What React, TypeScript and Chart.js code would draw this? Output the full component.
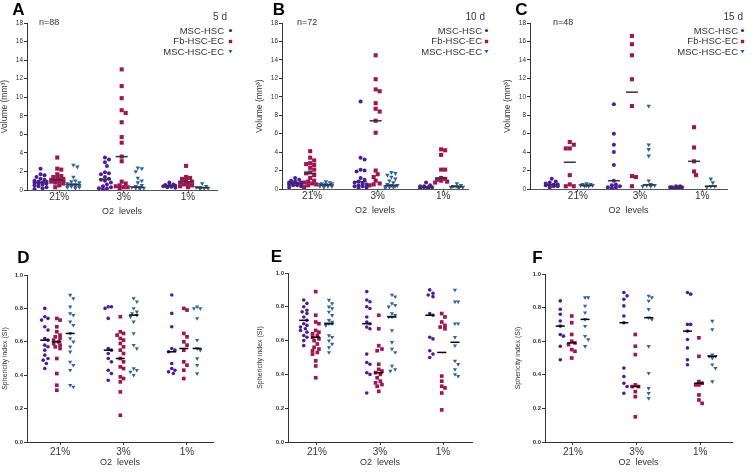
import React, { useEffect, useRef } from "react";
import { Chart, registerables } from "chart.js";

Chart.register(...registerables);

const FONT = '"Liberation Sans", Arial, Helvetica, sans-serif';
Chart.defaults.font.family = FONT;

const GROUPS = ["21%", "3%", "1%"];
const SERIES = ["MSC-HSC", "Fb-HSC-EC", "MSC-HSC-EC"];
const VOLUME_TICKS = [0, 2, 4, 6, 8, 10, 12, 14, 16, 18];
const SPHERICITY_TICKS = [0, 0.2, 0.4, 0.6, 0.8, 1.0];

// ---------- Panel A (5 d), volume, per group [21%, 3%, 1%]
const A_MSC_HSC = [
  [2.3, 1.7, 1.6, 1.4, 1.2, 1.1, 1.0, 0.9, 0.9, 0.8, 0.8, 0.7, 0.7, 0.6, 0.5, 0.4, 0.3, 0.2, 0.1],
  [3.5, 3.3, 3.0, 2.6, 1.9, 1.8, 1.7, 1.4, 1.2, 1.1, 1.0, 0.8, 0.6, 0.4, 0.3, 0.2, 0.15, 0.1],
  [0.8, 0.6, 0.55, 0.5, 0.45, 0.4, 0.35, 0.3, 0.25],
];
const A_FB_HSC_EC = [
  [3.5, 2.3, 2.2, 1.7, 1.5, 1.4, 1.3, 1.2, 1.1, 1.1, 1.0, 1.0, 0.9, 0.9, 0.8, 0.7, 0.5, 0.3],
  [13.0, 11.2, 9.9, 8.6, 8.3, 7.3, 5.7, 5.1, 3.6, 3.1, 0.9, 0.7, 0.5, 0.4, 0.3, 0.3, 0.2],
  [2.6, 1.4, 1.3, 1.2, 1.0, 0.9, 0.8, 0.7, 0.6, 0.5, 0.4, 0.3],
];
const A_MSC_HSC_EC = [
  [2.7, 2.5, 1.4, 1.0, 0.9, 0.8, 0.7, 0.6, 0.6, 0.5, 0.5, 0.4, 0.4, 0.3, 0.3, 0.2],
  [2.4, 2.3, 2.0, 1.3, 1.0, 0.8, 0.5, 0.4, 0.3, 0.3, 0.2, 0.2, 0.1],
  [0.7, 0.4, 0.3, 0.3, 0.2, 0.2, 0.1],
];
const A_MEDIANS = [[0.8, 1.15, 0.45], [1.1, 3.6, 0.9], [0.6, 0.3, 0.25]];

// ---------- Panel B (10 d)
const B_MSC_HSC = [
  [1.2, 1.0, 0.9, 0.8, 0.7, 0.7, 0.6, 0.6, 0.5, 0.5, 0.4, 0.4, 0.3, 0.2],
  [9.5, 3.4, 3.2, 2.1, 2.0, 1.9, 1.2, 1.0, 0.8, 0.7, 0.6, 0.5, 0.4, 0.3, 0.3, 0.2, 0.1],
  [0.7, 0.4, 0.3, 0.3, 0.2, 0.2, 0.2, 0.1, 0.1],
];
const B_FB_HSC_EC = [
  [4.1, 3.4, 3.1, 2.8, 2.7, 2.6, 2.3, 2.1, 1.8, 1.7, 1.5, 1.2, 0.9, 0.8, 0.7, 0.6, 0.5, 0.4, 0.2],
  [14.5, 11.9, 10.8, 10.6, 9.3, 8.7, 8.4, 7.4, 6.1, 2.0, 1.6, 1.3, 0.9, 0.6, 0.5, 0.4],
  [4.3, 4.2, 3.7, 2.1, 2.1, 1.2, 1.1, 1.0, 0.9, 0.8, 0.7],
];
const B_MSC_HSC_EC = [
  [0.8, 0.7, 0.6, 0.6, 0.5, 0.5, 0.4, 0.4, 0.4, 0.3, 0.3, 0.3, 0.2],
  [1.8, 1.7, 1.5, 1.3, 1.1, 0.9, 0.7, 0.5, 0.4, 0.4, 0.3, 0.3, 0.2, 0.2, 0.1],
  [0.6, 0.4, 0.3, 0.3, 0.2, 0.2, 0.1],
];
const B_MEDIANS = [[0.6, 0.8, 0.2], [1.7, 7.4, 1.2], [0.45, 0.4, 0.25]];

// ---------- Panel C (15 d)
const C_MSC_HSC = [
  [1.1, 0.8, 0.7, 0.6, 0.5, 0.5, 0.4, 0.4, 0.3, 0.3, 0.2],
  [9.2, 6.0, 4.8, 4.0, 2.6, 0.9, 0.5, 0.4, 0.3, 0.2, 0.2, 0.1],
  [0.3, 0.3, 0.2, 0.2, 0.2, 0.1, 0.1, 0.1],
];
const C_FB_HSC_EC = [
  [5.1, 4.8, 4.4, 4.4, 1.5, 0.5, 0.3, 0.3],
  [16.6, 15.7, 14.5, 11.9, 9.0, 1.4, 1.3, 0.3],
  [6.7, 4.5, 3.0, 1.9, 1.5],
];
const C_MSC_HSC_EC = [
  [0.6, 0.5, 0.5, 0.4, 0.4, 0.4, 0.3, 0.3],
  [9.0, 4.8, 4.3, 3.6, 0.9, 0.5, 0.4, 0.4, 0.3, 0.3],
  [1.1, 0.7, 0.3, 0.3, 0.2],
];
const C_MEDIANS = [[0.45, 0.9, 0.15], [2.9, 10.5, 3.0], [0.4, 0.45, 0.3]];

// ---------- Panel D (sphericity, 5 d)
const D_MSC_HSC = [
  [0.80, 0.75, 0.74, 0.73, 0.69, 0.67, 0.62, 0.61, 0.58, 0.57, 0.55, 0.52, 0.50, 0.49, 0.47, 0.44],
  [0.81, 0.81, 0.80, 0.74, 0.56, 0.55, 0.53, 0.50, 0.48, 0.43, 0.41, 0.37],
  [0.88, 0.77, 0.69, 0.56, 0.55, 0.54, 0.47, 0.44, 0.43, 0.42, 0.41],
];
const D_FB_HSC_EC = [
  [0.74, 0.73, 0.69, 0.66, 0.64, 0.63, 0.62, 0.61, 0.60, 0.59, 0.58, 0.57, 0.56, 0.50, 0.41, 0.34, 0.31],
  [0.75, 0.66, 0.65, 0.64, 0.62, 0.61, 0.59, 0.57, 0.55, 0.53, 0.50, 0.48, 0.45, 0.44, 0.39, 0.38, 0.36, 0.30, 0.16],
  [0.80, 0.79, 0.65, 0.63, 0.60, 0.58, 0.55, 0.48, 0.46, 0.43, 0.38],
];
const D_MSC_HSC_EC = [
  [0.88, 0.86, 0.81, 0.77, 0.76, 0.72, 0.70, 0.65, 0.62, 0.60, 0.57, 0.54, 0.48, 0.46, 0.43, 0.34, 0.33],
  [0.86, 0.84, 0.80, 0.78, 0.77, 0.76, 0.75, 0.72, 0.65, 0.58, 0.56, 0.44, 0.43, 0.42, 0.40],
  [0.81, 0.80, 0.80, 0.74, 0.61, 0.56, 0.55, 0.50, 0.46, 0.41],
];
const D_MEDIANS = [[0.61, 0.55, 0.54], [0.60, 0.50, 0.56], [0.65, 0.76, 0.56]];

// ---------- Panel E
const E_MSC_HSC = [
  [0.84, 0.82, 0.80, 0.78, 0.77, 0.76, 0.74, 0.72, 0.70, 0.69, 0.68, 0.67, 0.66, 0.65, 0.63, 0.62, 0.60, 0.57],
  [0.89, 0.84, 0.83, 0.80, 0.79, 0.74, 0.71, 0.70, 0.68, 0.67, 0.52, 0.47, 0.46, 0.41, 0.40, 0.29],
  [0.90, 0.88, 0.87, 0.86, 0.76, 0.75, 0.62, 0.61, 0.54, 0.52, 0.50],
];
const E_FB_HSC_EC = [
  [0.89, 0.75, 0.71, 0.70, 0.66, 0.65, 0.64, 0.63, 0.62, 0.61, 0.60, 0.58, 0.56, 0.55, 0.54, 0.53, 0.52, 0.48, 0.45, 0.38],
  [0.75, 0.67, 0.57, 0.55, 0.54, 0.46, 0.43, 0.42, 0.41, 0.40, 0.38, 0.36, 0.35, 0.34, 0.33, 0.30],
  [0.76, 0.74, 0.71, 0.69, 0.68, 0.67, 0.39, 0.36, 0.33, 0.32, 0.29, 0.19],
];
const E_MSC_HSC_EC = [
  [0.84, 0.82, 0.80, 0.79, 0.77, 0.75, 0.72, 0.71, 0.70, 0.70, 0.70, 0.69, 0.63, 0.62, 0.60, 0.58, 0.56, 0.53],
  [0.87, 0.86, 0.82, 0.81, 0.80, 0.76, 0.75, 0.74, 0.74, 0.66, 0.59, 0.55, 0.53, 0.45, 0.43, 0.42],
  [0.90, 0.83, 0.83, 0.70, 0.70, 0.62, 0.57, 0.48, 0.46, 0.43, 0.40, 0.39],
];
const E_MEDIANS = [[0.72, 0.70, 0.75], [0.62, 0.41, 0.53], [0.70, 0.74, 0.59]];

// ---------- Panel F
const F_MSC_HSC = [
  [0.84, 0.79, 0.76, 0.72, 0.69, 0.64, 0.63, 0.57, 0.49],
  [0.89, 0.87, 0.85, 0.81, 0.75, 0.71, 0.44, 0.39, 0.35, 0.33, 0.29],
  [0.89, 0.88, 0.70, 0.70, 0.66, 0.61, 0.56, 0.49, 0.46],
];
const F_FB_HSC_EC = [
  [0.75, 0.71, 0.64, 0.60, 0.59, 0.58, 0.55, 0.54, 0.50],
  [0.64, 0.57, 0.52, 0.34, 0.33, 0.33, 0.30, 0.27, 0.15],
  [0.62, 0.51, 0.36, 0.35, 0.34, 0.34, 0.28, 0.25, 0.23],
];
const F_MSC_HSC_EC = [
  [0.86, 0.86, 0.81, 0.77, 0.73, 0.69, 0.63, 0.61, 0.57],
  [0.87, 0.86, 0.84, 0.79, 0.74, 0.73, 0.57, 0.41, 0.32, 0.29, 0.26],
  [0.72, 0.67, 0.52, 0.51, 0.51, 0.50, 0.46, 0.44, 0.36],
];
const F_MEDIANS = [[0.69, 0.71, 0.66], [0.59, 0.33, 0.35], [0.73, 0.74, 0.51]];

const COLORS = ["#4a1c9c", "#9e1651", "#2f6399"];
const STYLES = ["circle", "rect", "triangle"];

type Panel = {
  letter: string;
  n?: string;
  day?: string;
  series: number[][][];
  medians: number[][];
  kind: "volume" | "sphericity";
  left: number;
  top: number;
  width: number;
  height: number;
  area: { l: number; t: number; r: number; b: number };
  padLeft: number;
  xAxisH: number;
  xRange: [number, number];
  offsets: number[];
  letterPos: [number, number];
  nPos?: [number, number];
  dayRight?: number;
  legendRight?: number;
  markerX?: number;
};

const PANELS: Panel[] = [
  {
    letter: "A", n: "n=88", day: "5 d",
    series: [A_MSC_HSC, A_FB_HSC_EC, A_MSC_HSC_EC], medians: A_MEDIANS, kind: "volume",
    left: 0, top: 0, width: 250, height: 230,
    area: { l: 27, t: 23, r: 217, b: 190 }, padLeft: 0, xAxisH: 27,
    xRange: [-0.5, 2.45], offsets: [-0.29, -0.03, 0.22],
    letterPos: [18.5, 9], nPos: [39, 22], dayRight: 227, legendRight: 224, markerX: 230,
  },
  {
    letter: "B", n: "n=72", day: "10 d",
    series: [B_MSC_HSC, B_FB_HSC_EC, B_MSC_HSC_EC], medians: B_MEDIANS, kind: "volume",
    left: 250, top: 0, width: 250, height: 230,
    area: { l: 32, t: 23, r: 218, b: 189 }, padLeft: 5, xAxisH: 27,
    xRange: [-0.46, 2.38], offsets: [-0.26, -0.03, 0.21],
    letterPos: [29, 9], nPos: [47, 22], dayRight: 235, legendRight: 232, markerX: 236,
  },
  {
    letter: "C", n: "n=48", day: "15 d",
    series: [C_MSC_HSC, C_FB_HSC_EC, C_MSC_HSC_EC], medians: C_MEDIANS, kind: "volume",
    left: 500, top: 0, width: 253, height: 230,
    area: { l: 30, t: 23, r: 227, b: 189 }, padLeft: 3, xAxisH: 27,
    xRange: [-0.77, 2.4], offsets: [-0.42, -0.13, 0.14],
    letterPos: [21.5, 9], nPos: [53, 22], dayRight: 243, legendRight: 238, markerX: 242,
  },
  {
    letter: "D",
    series: [D_MSC_HSC, D_FB_HSC_EC, D_MSC_HSC_EC], medians: D_MEDIANS, kind: "sphericity",
    left: 0, top: 230, width: 250, height: 243,
    area: { l: 27, t: 45, r: 213, b: 212 }, padLeft: 1, xAxisH: 26,
    xRange: [-0.52, 2.41], offsets: [-0.24, -0.05, 0.16],
    letterPos: [23.5, 26.5],
  },
  {
    letter: "E",
    series: [E_MSC_HSC, E_FB_HSC_EC, E_MSC_HSC_EC], medians: E_MEDIANS, kind: "sphericity",
    left: 250, top: 230, width: 250, height: 243,
    area: { l: 38, t: 43, r: 222, b: 212 }, padLeft: 6, xAxisH: 26,
    xRange: [-0.46, 2.46], offsets: [-0.21, -0.02, 0.19],
    letterPos: [26.5, 26],
  },
  {
    letter: "F",
    series: [F_MSC_HSC, F_FB_HSC_EC, F_MSC_HSC_EC], medians: F_MEDIANS, kind: "sphericity",
    left: 500, top: 230, width: 253, height: 243,
    area: { l: 45, t: 44, r: 232, b: 212 }, padLeft: 14, xAxisH: 26,
    xRange: [-0.44, 2.5], offsets: [-0.2, -0.02, 0.19],
    letterPos: [37.5, 26.5],
  },
];

// deterministic beeswarm spread (pixels), computed from the values
function swarmOffsets(values: number[], yPx: number, diam: number, step: number, maxSlot: number): number[] {
  const order = values.map((_, i) => i).sort((a, b) => values[b] - values[a]);
  const placed: { x: number; y: number }[] = [];
  const out = new Array(values.length).fill(0);
  const slots = [0];
  for (let k = 1; k <= maxSlot; k++) slots.push(k, -k);
  for (const i of order) {
    const y = values[i] * yPx;
    let best = 0;
    let bestOverlap = Infinity;
    for (const s of slots) {
      const x = s * step;
      let overlap = 0;
      for (const p of placed) {
        const d = Math.hypot(p.x - x, p.y - y);
        if (d < diam) overlap += diam - d;
      }
      if (overlap === 0) { best = s; bestOverlap = 0; break; }
      if (overlap < bestOverlap - 0.01) { bestOverlap = overlap; best = s; }
    }
    placed.push({ x: best * step, y });
    out[i] = best * step;
  }
  return out;
}

function Marker({ s, x, y }: { s: number; x: number; y: number }) {
  const c = COLORS[s];
  return (
    <svg width={5} height={5} style={{ position: "absolute", left: x - 2.5, top: y - 2.5 }}>
      {s === 0 && <circle cx={2.5} cy={2.5} r={1.6} fill={c} />}
      {s === 1 && <rect x={0.8} y={0.8} width={3.4} height={3.4} fill={c} />}
      {s === 2 && <polygon points="0.5,1 4.5,1 2.5,4.4" fill={c} />}
    </svg>
  );
}

function PanelView({ p }: { p: Panel }) {
  const ref = useRef<HTMLCanvasElement>(null);
  useEffect(() => {
    if (!ref.current) return;
    const isVol = p.kind === "volume";
    const yTicks = isVol ? VOLUME_TICKS : SPHERICITY_TICKS;
    const yMin = yTicks[0];
    const yMax = yTicks[yTicks.length - 1];
    const xPx = (p.area.r - p.area.l) / (p.xRange[1] - p.xRange[0]);
    const yPx = (p.area.b - p.area.t) / (yMax - yMin);
    const sizes = isVol ? [2, 2.9, 2.6] : [1.8, 2.6, 2.4];
    const axisColor = isVol ? "#555" : "#333";

    const medianPts: { x: number; y: number }[] = [];
    p.medians.forEach((row, s) =>
      row.forEach((m, g) => medianPts.push({ x: g + p.offsets[s], y: m }))
    );

    const datasets: any[] = [
      {
        label: "median",
        data: medianPts,
        showLine: false,
        pointStyle: "line",
        pointRadius: isVol ? 6 : 4.5,
        pointBorderColor: isVol ? "#333" : "#000",
        pointBorderWidth: 1.5,
      },
    ];
    SERIES.forEach((name, s) => {
      const pts: { x: number; y: number }[] = [];
      p.series[s].forEach((vals, g) => {
        const off = isVol ? swarmOffsets(vals, yPx, 4.0, 2.0, 3) : swarmOffsets(vals, yPx, 4.0, 1.6, 2);
        vals.forEach((v, i) => pts.push({ x: g + p.offsets[s] + off[i] / xPx, y: v }));
      });
      datasets.push({
        label: name,
        data: pts,
        showLine: false,
        pointStyle: STYLES[s],
        pointRotation: s === 2 ? 180 : 0,
        pointRadius: sizes[s],
        pointBackgroundColor: COLORS[s],
        pointBorderWidth: 0,
        pointBorderColor: COLORS[s],
      });
    });

    const chart = new Chart(ref.current, {
      type: "scatter",
      data: { datasets },
      options: {
        responsive: false,
        animation: false,
        devicePixelRatio: 1,
        events: [],
        layout: {
          padding: {
            left: p.padLeft,
            right: p.width - p.area.r,
            top: p.area.t,
            bottom: p.height - p.area.b - p.xAxisH,
          },
        },
        plugins: { legend: { display: false }, tooltip: { enabled: false } },
        scales: {
          x: {
            type: "linear",
            min: p.xRange[0],
            max: p.xRange[1],
            afterBuildTicks: (s: any) => {
              s.ticks = GROUPS.map((_, i) => ({ value: i }));
            },
            afterFit: (s: any) => {
              s.height = p.xAxisH;
            },
            ticks: {
              callback: (v: any) => GROUPS[Math.round(Number(v))],
              font: { size: 10, family: FONT },
              color: "#333",
              padding: isVol ? -1.5 : 1,
              autoSkip: false,
              maxRotation: 0,
            },
            grid: { display: true, drawOnChartArea: false, drawTicks: true, tickLength: 3, color: axisColor },
            border: { display: true, color: axisColor, width: 1 },
            title: { display: true, text: "O2  levels", font: { size: 9, family: FONT }, color: "#333", padding: 0 },
          },
          y: {
            type: "linear",
            min: yMin,
            max: yMax,
            afterBuildTicks: (s: any) => {
              s.ticks = yTicks.map((v) => ({ value: v }));
            },
            afterFit: (s: any) => {
              s.width = p.area.l - p.padLeft;
            },
            ticks: {
              callback: (v: any) => (isVol ? String(v) : Number(v).toFixed(1)),
              font: { size: isVol ? 6.5 : 6, weight: isVol ? "normal" : "bold", family: FONT },
              color: "#333",
              padding: 1,
            },
            grid: { display: true, drawOnChartArea: false, drawTicks: true, tickLength: 3, color: "#333" },
            border: { display: true, color: "#333", width: 1 },
            title: {
              display: true,
              text: isVol ? "Volume (mm³)" : "Sphericity index (SI)",
              font: { size: isVol ? 8.5 : 7, family: FONT },
              color: "#333",
              padding: 0,
            },
          },
        },
      } as any,
    });
    return () => chart.destroy();
  }, [p]);

  const legendY = [30.5, 41, 51.5];
  return (
    <div style={{ position: "absolute", left: p.left, top: p.top, width: p.width, height: p.height }}>
      <canvas ref={ref} width={p.width} height={p.height} style={{ display: "block" }} />
      <div
        style={{
          position: "absolute", left: p.letterPos[0], top: p.letterPos[1],
          transform: "translate(-50%, -50%)", font: `bold 17px ${FONT}`, lineHeight: 1, color: "#000",
        }}
      >
        {p.letter}
      </div>
      {p.n && p.nPos && (
        <div style={{ position: "absolute", left: p.nPos[0], top: p.nPos[1], transform: "translateY(-50%)", font: `9px ${FONT}`, lineHeight: 1, color: "#333", whiteSpace: "nowrap" }}>
          {p.n}
        </div>
      )}
      {p.day && p.dayRight !== undefined && (
        <div style={{ position: "absolute", right: p.width - p.dayRight, top: 16.5, transform: "translateY(-50%)", font: `10px ${FONT}`, lineHeight: 1, color: "#333", whiteSpace: "nowrap" }}>
          {p.day}
        </div>
      )}
      {p.legendRight !== undefined &&
        SERIES.map((name, s) => (
          <React.Fragment key={name}>
            <div style={{ position: "absolute", right: p.width - (p.legendRight as number), top: legendY[s], transform: "translateY(-50%)", font: `9.5px ${FONT}`, lineHeight: 1, color: "#333", whiteSpace: "nowrap" }}>
              {name}
            </div>
            <Marker s={s} x={p.markerX as number} y={legendY[s]} />
          </React.Fragment>
        ))}
    </div>
  );
}

export default function App() {
  return (
    <div style={{ position: "fixed", left: 0, top: 0, width: 753, height: 473, background: "#fff", fontFamily: FONT, overflow: "hidden" }}>
      {PANELS.map((p) => (
        <PanelView key={p.letter} p={p} />
      ))}
    </div>
  );
}
